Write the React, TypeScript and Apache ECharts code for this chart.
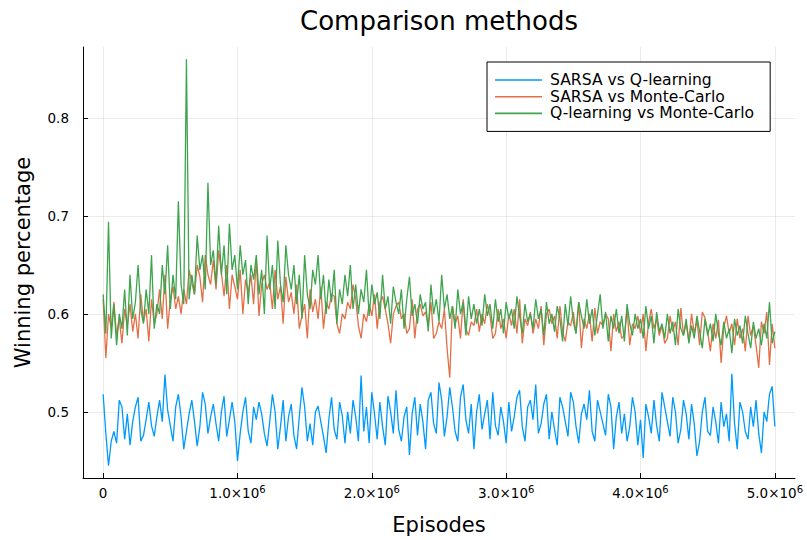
import { useEffect, useRef } from "react";
import * as echarts from "echarts";

const STEP = 20000;
const xTicks = [0, 1e6, 2e6, 3e6, 4e6, 5e6];
const yTicks = [0.5, 0.6, 0.7, 0.8];
const seriesNames = ["SARSA vs Q-learning", "SARSA vs Monte-Carlo", "Q-learning vs Monte-Carlo"];
const seriesColors = ["#009AFA", "#E36F47", "#3EA44E"];

const sarsaVsQ = [
  0.518, 0.478, 0.445, 0.470, 0.480, 0.468, 0.512, 0.505, 0.472, 0.498,
  0.466, 0.490, 0.505, 0.515, 0.470, 0.476, 0.492, 0.510, 0.486, 0.475,
  0.495, 0.512, 0.490, 0.538, 0.502, 0.486, 0.470, 0.505, 0.518, 0.495,
  0.462, 0.480, 0.498, 0.512, 0.490, 0.465, 0.485, 0.520, 0.508, 0.478,
  0.495, 0.508, 0.488, 0.470, 0.500, 0.516, 0.475, 0.492, 0.510, 0.490,
  0.450, 0.478, 0.500, 0.515, 0.480, 0.468, 0.505, 0.492, 0.510, 0.498,
  0.478, 0.465, 0.490, 0.518, 0.500, 0.462, 0.485, 0.512, 0.470, 0.495,
  0.508, 0.476, 0.462, 0.495, 0.525, 0.505, 0.470, 0.488, 0.466, 0.500,
  0.506, 0.490, 0.475, 0.458, 0.492, 0.515, 0.482, 0.472, 0.510, 0.496,
  0.468, 0.500, 0.478, 0.512, 0.495, 0.470, 0.537, 0.480, 0.505, 0.468,
  0.520, 0.498, 0.472, 0.510, 0.485, 0.466, 0.516, 0.500, 0.478, 0.522,
  0.482, 0.470, 0.495, 0.505, 0.456, 0.498, 0.515, 0.476, 0.508, 0.490,
  0.462, 0.512, 0.520, 0.488, 0.478, 0.530, 0.512, 0.475, 0.495, 0.525,
  0.505, 0.480, 0.470, 0.515, 0.528, 0.492, 0.478, 0.508, 0.462, 0.500,
  0.518, 0.482, 0.498, 0.512, 0.472, 0.520, 0.486, 0.476, 0.505, 0.490,
  0.468, 0.510, 0.480, 0.495, 0.515, 0.522, 0.485, 0.470, 0.505, 0.512,
  0.492, 0.528, 0.478, 0.488, 0.508, 0.518, 0.472, 0.500, 0.482, 0.466,
  0.515, 0.505, 0.490, 0.475, 0.520, 0.510, 0.485, 0.468, 0.498, 0.508,
  0.492, 0.522, 0.480, 0.470, 0.512, 0.500, 0.488, 0.476, 0.518, 0.505,
  0.462, 0.495, 0.510, 0.478, 0.498, 0.470, 0.485, 0.515, 0.500, 0.466,
  0.492, 0.453, 0.508, 0.495, 0.478, 0.512, 0.486, 0.470, 0.520, 0.505,
  0.490, 0.475, 0.515, 0.500, 0.468, 0.482, 0.512, 0.498, 0.472, 0.508,
  0.488, 0.455, 0.470, 0.500, 0.515, 0.480, 0.476, 0.505, 0.490, 0.468,
  0.510, 0.485, 0.498, 0.470, 0.539, 0.488, 0.462, 0.510, 0.500, 0.480,
  0.472, 0.505, 0.485, 0.512, 0.478, 0.458, 0.500, 0.490, 0.518, 0.526, 0.485,
];

const sarsaVsMC = [
  0.615, 0.555, 0.600, 0.585, 0.612, 0.578, 0.595, 0.570, 0.605, 0.588,
  0.610, 0.582, 0.600, 0.575, 0.620, 0.592, 0.605, 0.572, 0.615, 0.590,
  0.600, 0.625, 0.595, 0.640, 0.585, 0.615, 0.628, 0.605, 0.618, 0.600,
  0.625, 0.610, 0.645, 0.632, 0.620, 0.650, 0.638, 0.612, 0.660, 0.640,
  0.630, 0.655, 0.625, 0.665, 0.642, 0.618, 0.650, 0.605, 0.640, 0.628,
  0.615, 0.645, 0.600, 0.635, 0.622, 0.640, 0.610, 0.655, 0.598, 0.630,
  0.640, 0.625, 0.632, 0.605, 0.645, 0.615, 0.628, 0.590, 0.638, 0.612,
  0.622, 0.600, 0.630, 0.585, 0.598, 0.610, 0.575, 0.625, 0.602, 0.615,
  0.595, 0.628, 0.585, 0.612, 0.605, 0.620, 0.618, 0.590, 0.580, 0.600,
  0.595, 0.612, 0.605, 0.630, 0.615, 0.588, 0.575, 0.600, 0.592, 0.610,
  0.598, 0.620, 0.585, 0.612, 0.618, 0.605, 0.590, 0.570, 0.600, 0.608,
  0.612, 0.595, 0.600, 0.580, 0.585, 0.615, 0.575, 0.605, 0.610, 0.598,
  0.602, 0.588, 0.612, 0.575, 0.580, 0.592, 0.585, 0.605, 0.565, 0.535,
  0.608, 0.590, 0.598, 0.575, 0.615, 0.585, 0.578, 0.592, 0.588, 0.605,
  0.582, 0.600, 0.590, 0.610, 0.598, 0.575, 0.580, 0.605, 0.585, 0.595,
  0.575, 0.600, 0.588, 0.605, 0.580, 0.615, 0.570, 0.595, 0.588, 0.602,
  0.580, 0.595, 0.585, 0.608, 0.568, 0.600, 0.605, 0.590, 0.598, 0.575,
  0.608, 0.582, 0.572, 0.592, 0.588, 0.602, 0.580, 0.612, 0.565, 0.595,
  0.585, 0.600, 0.572, 0.606, 0.580, 0.592, 0.588, 0.600, 0.595, 0.562,
  0.600, 0.582, 0.592, 0.575, 0.578, 0.605, 0.568, 0.590, 0.585, 0.598,
  0.580, 0.600, 0.562, 0.592, 0.605, 0.585, 0.595, 0.578, 0.588, 0.570,
  0.575, 0.598, 0.582, 0.592, 0.568, 0.606, 0.578, 0.590, 0.572, 0.600,
  0.580, 0.594, 0.568, 0.602, 0.596, 0.582, 0.562, 0.590, 0.575, 0.594,
  0.550, 0.586, 0.598, 0.580, 0.590, 0.568, 0.595, 0.575, 0.585, 0.562,
  0.598, 0.578, 0.588, 0.568, 0.545, 0.592, 0.580, 0.602, 0.548, 0.590, 0.565,
];

const qVsMC = [
  0.620, 0.580, 0.694, 0.575, 0.610, 0.568, 0.600, 0.585, 0.625, 0.578,
  0.640, 0.595, 0.612, 0.650, 0.605, 0.590, 0.625, 0.600, 0.660, 0.585,
  0.610, 0.600, 0.650, 0.620, 0.670, 0.605, 0.640, 0.615, 0.715, 0.630,
  0.610, 0.860, 0.615, 0.640, 0.620, 0.680, 0.645, 0.660, 0.625, 0.734,
  0.650, 0.665, 0.630, 0.690, 0.640, 0.670, 0.620, 0.692, 0.645, 0.660,
  0.625, 0.670, 0.640, 0.655, 0.610, 0.650, 0.635, 0.660, 0.620, 0.645,
  0.600, 0.680, 0.625, 0.650, 0.605, 0.675, 0.630, 0.612, 0.670, 0.640,
  0.625, 0.650, 0.610, 0.640, 0.595, 0.660, 0.620, 0.605, 0.645, 0.630,
  0.660, 0.615, 0.640, 0.600, 0.635, 0.612, 0.645, 0.590, 0.625, 0.610,
  0.640, 0.618, 0.650, 0.605, 0.630, 0.600, 0.625, 0.612, 0.645, 0.598,
  0.630, 0.610, 0.622, 0.595, 0.640, 0.605, 0.618, 0.590, 0.628, 0.612,
  0.600, 0.625, 0.585, 0.615, 0.638, 0.598, 0.610, 0.590, 0.620, 0.605,
  0.612, 0.582, 0.630, 0.600, 0.615, 0.592, 0.640, 0.605, 0.620, 0.595,
  0.608, 0.585, 0.625, 0.600, 0.612, 0.578, 0.618, 0.595, 0.610, 0.590,
  0.605, 0.588, 0.620, 0.598, 0.610, 0.585, 0.615, 0.592, 0.605, 0.580,
  0.612, 0.595, 0.605, 0.585, 0.618, 0.598, 0.580, 0.610, 0.592, 0.600,
  0.585, 0.615, 0.595, 0.605, 0.578, 0.612, 0.590, 0.600, 0.582, 0.608,
  0.595, 0.572, 0.610, 0.588, 0.618, 0.592, 0.580, 0.612, 0.598, 0.585,
  0.615, 0.590, 0.605, 0.578, 0.600, 0.620, 0.585, 0.602, 0.572, 0.598,
  0.585, 0.605, 0.580, 0.598, 0.572, 0.610, 0.590, 0.578, 0.600, 0.585,
  0.595, 0.575, 0.608, 0.585, 0.598, 0.570, 0.602, 0.582, 0.590, 0.575,
  0.600, 0.580, 0.592, 0.568, 0.605, 0.585, 0.578, 0.595, 0.570, 0.588,
  0.575, 0.598, 0.582, 0.565, 0.595, 0.578, 0.590, 0.572, 0.600, 0.580,
  0.568, 0.592, 0.575, 0.585, 0.560, 0.595, 0.578, 0.588, 0.570, 0.598,
  0.580, 0.565, 0.592, 0.575, 0.585, 0.568, 0.590, 0.575, 0.612, 0.570, 0.582,
];

const allSeries = [sarsaVsQ, sarsaVsMC, qVsMC];
const FONT = "DejaVu Sans";

export default function App() {
  const ref = useRef<HTMLDivElement>(null);
  useEffect(() => {
    if (!ref.current) return;
    const chart = echarts.init(ref.current, undefined, { renderer: "svg" });
    chart.setOption({
      animation: false,
      backgroundColor: "#fff",
      textStyle: { fontFamily: FONT },
      graphic: [
        {
          type: "text",
          x: 439,
          y: 21,
          style: {
            text: "Comparison methods",
            font: `26px "${FONT}"`,
            fill: "#000",
            align: "center",
            verticalAlign: "middle",
          },
        },
      ],
      grid: { left: 83, right: 12, top: 47, bottom: 62 },
      legend: {
        data: seriesNames.map((n) => ({ name: n, icon: "rect" })),
        orient: "vertical",
        left: 487,
        top: 62,
        padding: [10, 16, 10, 8],
        itemWidth: 47,
        itemHeight: 1.6,
        itemGap: 0.7,
        backgroundColor: "#fff",
        borderColor: "#000",
        borderWidth: 1,
        borderRadius: 0,
        textStyle: { fontFamily: FONT, fontSize: 15.6, color: "#000", padding: [0, 0, 0, 3], lineHeight: 16 },
      },
      xAxis: {
        type: "value",
        min: -150000,
        max: 5150000,
        name: "Episodes",
        nameLocation: "middle",
        nameGap: 36,
        nameTextStyle: { fontFamily: FONT, fontSize: 21, color: "#000" },
        axisLine: { show: true, onZero: false, lineStyle: { color: "#000", width: 1 } },
        axisTick: { show: true, inside: true, length: 5, customValues: xTicks, lineStyle: { color: "#000" } },
        axisLabel: {
          customValues: xTicks,
          fontFamily: FONT,
          fontSize: 13.5,
          color: "#000",
          margin: 6,
          lineHeight: 18,
          formatter: (v: number) => (v === 0 ? "0" : `${(v / 1e6).toFixed(1)}×10{sup|6}`),
          rich: { sup: { fontSize: 10, lineHeight: 10, verticalAlign: "top", fontFamily: FONT, color: "#000" } },
        },
        splitLine: { show: true, lineStyle: { color: "rgba(0,0,0,0.08)", width: 1 } },
      },
      yAxis: {
        type: "value",
        min: 0.4325,
        max: 0.8725,
        name: "Winning percentage",
        nameLocation: "middle",
        nameGap: 50,
        nameTextStyle: { fontFamily: FONT, fontSize: 21, color: "#000" },
        axisLine: { show: true, onZero: false, lineStyle: { color: "#000", width: 1 } },
        axisTick: { show: true, inside: true, length: 5, customValues: yTicks, lineStyle: { color: "#000" } },
        axisLabel: {
          customValues: yTicks,
          fontFamily: FONT,
          fontSize: 13.5,
          color: "#000",
          margin: 14,
          formatter: (v: number) => v.toFixed(1),
        },
        splitLine: { show: true, lineStyle: { color: "rgba(0,0,0,0.08)", width: 1 } },
      },
      series: allSeries.map((vals, k) => ({
        name: seriesNames[k],
        type: "line",
        symbol: "none",
        color: seriesColors[k],
        lineStyle: { width: 1.3, color: seriesColors[k] },
        data: vals.map((v, i) => [i * STEP, v]),
        z: 2 + k,
      })),
    });
    return () => chart.dispose();
  }, []);
  return (
    <div style={{ position: "fixed", left: 0, top: 0, width: 807, height: 540, background: "#fff" }}>
      <div ref={ref} style={{ width: 807, height: 540 }} />
    </div>
  );
}
